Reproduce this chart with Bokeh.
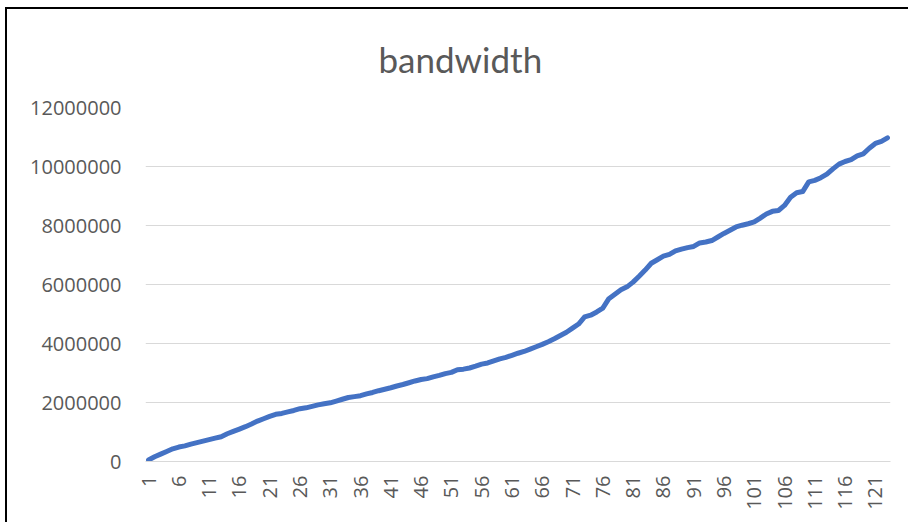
from bokeh.plotting import figure
from bokeh.models import FixedTicker, NumeralTickFormatter, Range1d
from bokeh.embed import file_html
from bokeh.resources import INLINE

# Sample index (1..123) and measured bandwidth per sample
samples = list(range(1, 124))
bandwidth = [
    50000, 160000, 250000, 340000, 430000, 490000, 530000, 590000, 640000, 690000,
    740000, 790000, 840000, 940000, 1020000, 1100000, 1180000, 1270000, 1370000, 1450000,
    1530000, 1600000, 1630000, 1680000, 1730000, 1790000, 1820000, 1870000, 1920000, 1960000,
    1990000, 2050000, 2110000, 2170000, 2200000, 2230000, 2290000, 2340000, 2400000, 2450000,
    2500000, 2560000, 2610000, 2670000, 2730000, 2780000, 2810000, 2870000, 2920000, 2980000,
    3020000, 3110000, 3130000, 3170000, 3230000, 3300000, 3340000, 3410000, 3480000, 3530000,
    3600000, 3670000, 3730000, 3810000, 3890000, 3970000, 4060000, 4160000, 4270000, 4380000,
    4520000, 4660000, 4900000, 4960000, 5070000, 5200000, 5520000, 5670000, 5820000, 5920000,
    6080000, 6280000, 6490000, 6720000, 6840000, 6960000, 7020000, 7140000, 7200000, 7250000,
    7290000, 7410000, 7440000, 7490000, 7610000, 7730000, 7840000, 7950000, 8010000, 8060000,
    8120000, 8250000, 8390000, 8480000, 8510000, 8680000, 8960000, 9110000, 9150000, 9480000,
    9530000, 9620000, 9740000, 9920000, 10080000, 10170000, 10230000, 10360000, 10430000, 10620000,
    10780000, 10850000, 10970000,
]

x_ticks = list(range(1, 124, 5))
y_ticks = [0, 2000000, 4000000, 6000000, 8000000, 10000000, 12000000]

TEXT = "#595959"
GRID = "#D9D9D9"
FONT = "Open Sans"

p = figure(
    width=903, height=515,
    output_backend="svg", toolbar_location=None,
    x_range=Range1d(0.5, len(samples) + 0.5),
    y_range=Range1d(0, 12000000),
    min_border_left=138, min_border_right=20,
    min_border_top=98, min_border_bottom=63,
    title="bandwidth",
)
p.styles = {"border-left": "2px solid #000000", "border-top": "2px solid #000000",
            "margin-left": "5px", "margin-top": "7px"}

# title centred over the whole chart area rather than the plot frame
p.title.align = "left"
p.title.offset = 233
p.title.vertical_align = "middle"
p.title.text_font = "Lato"
p.title.text_font_size = "35px"
p.title.text_font_style = "normal"
p.title.text_color = TEXT
p.title.standoff = 54

p.outline_line_color = None
p.background_fill_color = "white"
p.border_fill_color = "white"

p.xgrid.grid_line_color = None
p.ygrid.grid_line_color = GRID
p.ygrid.grid_line_width = 1

p.xaxis.ticker = FixedTicker(ticks=x_ticks)
p.xaxis.major_label_orientation = 1.5708
p.xaxis.axis_line_color = GRID
p.xaxis.major_tick_line_color = None
p.xaxis.minor_tick_line_color = None
p.xaxis.major_tick_out = 0
p.xaxis.major_tick_in = 0
p.xaxis.major_label_standoff = 14

p.yaxis.ticker = FixedTicker(ticks=y_ticks)
p.yaxis.formatter = NumeralTickFormatter(format="0")
p.yaxis.axis_line_color = None
p.yaxis.major_tick_line_color = None
p.yaxis.minor_tick_line_color = None
p.yaxis.major_tick_out = 0
p.yaxis.major_tick_in = 0
p.yaxis.major_label_standoff = 24

for ax in (p.xaxis, p.yaxis):
    ax.major_label_text_font = FONT
    ax.major_label_text_font_size = "20px"
    ax.major_label_text_color = TEXT

p.line(samples, bandwidth, line_color="#4472C4", line_width=5,
       line_join="round", line_cap="round")

open("out.html", "w").write(file_html(p, INLINE))
